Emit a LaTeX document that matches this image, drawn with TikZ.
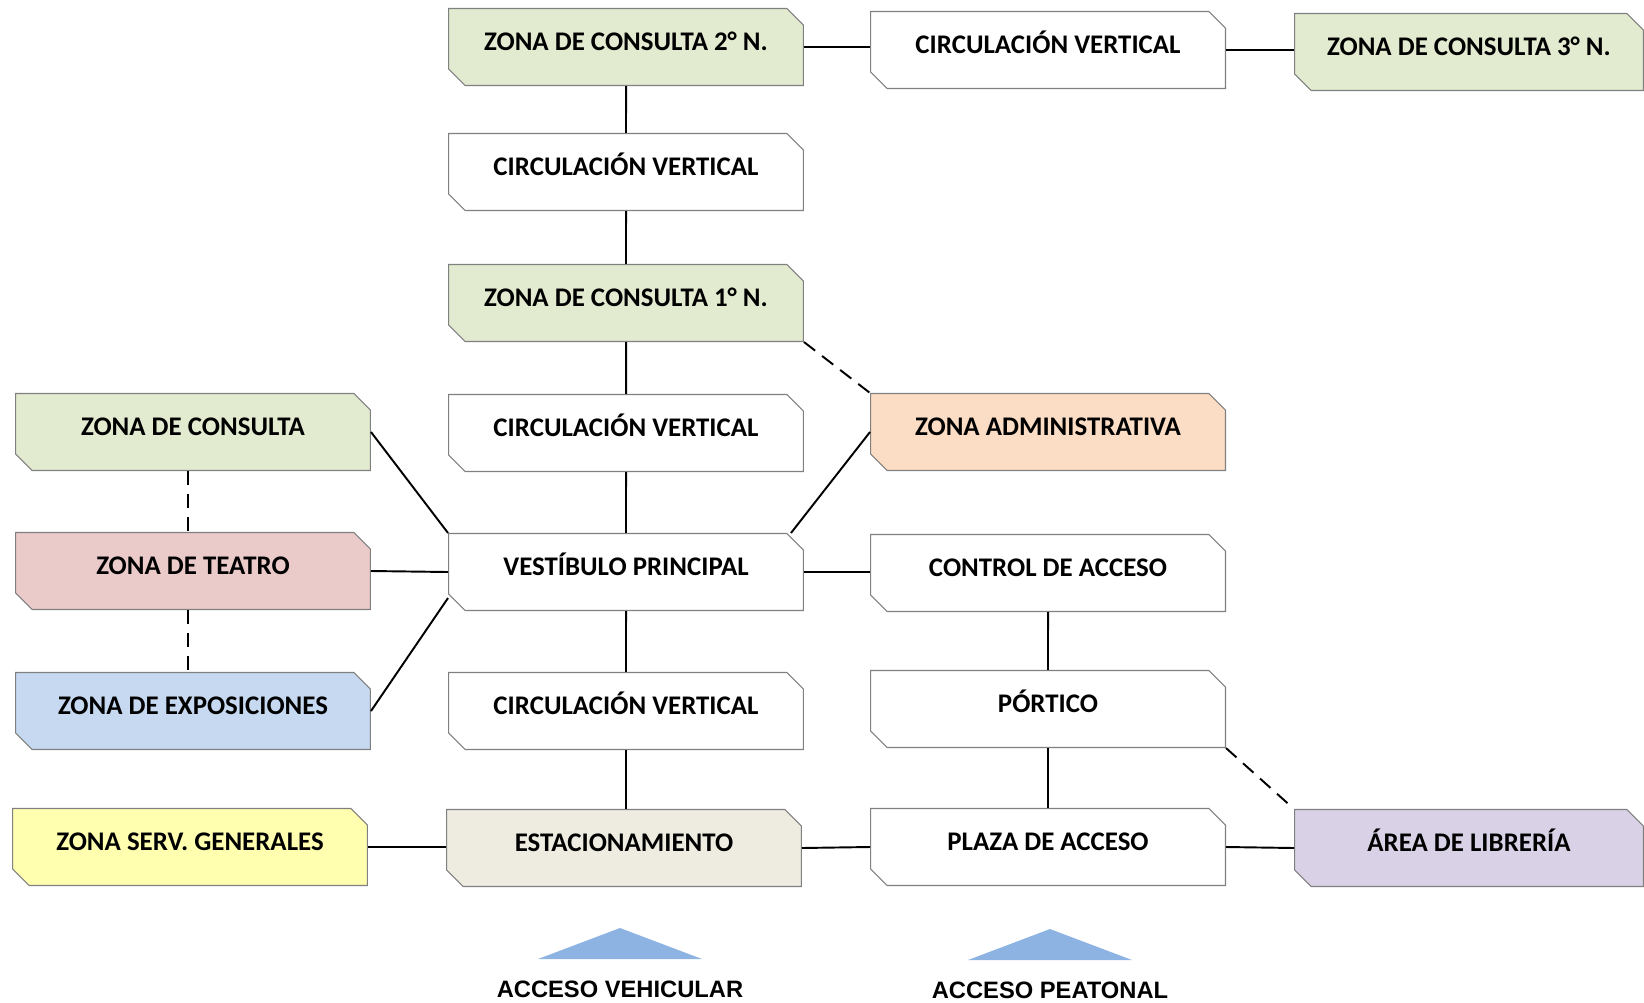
\documentclass[tikz,border=0pt]{standalone}
\usepackage{fontspec}
\setmainfont{Carlito}
\newfontfamily\arialfont{Liberation Sans}
\usetikzlibrary{shapes.misc}

\definecolor{verdeC}{HTML}{E2EBD0}
\definecolor{rosaC}{HTML}{EBCACA}
\definecolor{azulC}{HTML}{C6D9F0}
\definecolor{amarC}{HTML}{FFFFAF}
\definecolor{beigeC}{HTML}{EEECE1}
\definecolor{naranjaC}{HTML}{FBDCC4}
\definecolor{liláC}{HTML}{D9D2E6}
\definecolor{flechaC}{HTML}{8DB3E2}

\begin{document}
\begin{tikzpicture}[
  x=0.02cm, y=-0.02cm,
  zona/.style={chamfered rectangle, chamfered rectangle corners={north east,south west},
    chamfered rectangle xsep=0.22cm, draw=gray, line width=0.6pt, fill=white,
    minimum width=7.1cm, minimum height=1.54cm, inner sep=0pt,
    font=\fontsize{15.3}{18}\selectfont\bfseries, text height=0.4cm, text depth=0.26cm},
  link/.style={line width=1.1pt},
  guion/.style={line width=1.1pt, dash pattern=on 8pt off 5pt},
  acceso/.style={font=\arialfont\fontsize{13.5}{16}\selectfont\bfseries}
]
\useasboundingbox (0,0) rectangle (1644,1002);

\node[zona, fill=verdeC] (zc2) at (626,47) {ZONA DE CONSULTA 2° N.};
\node[zona] (cvA) at (1048,50) {CIRCULACIÓN VERTICAL};
\node[zona, fill=verdeC, minimum width=6.98cm] (zc3) at (1469,52) {ZONA DE CONSULTA 3° N.};
\node[zona] (cvB) at (626,172) {CIRCULACIÓN VERTICAL};
\node[zona, fill=verdeC] (zc1) at (626,303) {ZONA DE CONSULTA 1° N.};
\node[zona, fill=verdeC] (zcons) at (193,432) {ZONA DE CONSULTA};
\node[zona] (cvC) at (626,433) {CIRCULACIÓN VERTICAL};
\node[zona, fill=naranjaC] (zadm) at (1048,432) {ZONA ADMINISTRATIVA};
\node[zona, fill=rosaC] (teatro) at (193,571) {ZONA DE TEATRO};
\node[zona] (vest) at (626,572) {VESTÍBULO PRINCIPAL};
\node[zona] (control) at (1048,573) {CONTROL DE ACCESO};
\node[zona, fill=azulC] (expo) at (193,711) {ZONA DE EXPOSICIONES};
\node[zona] (cvD) at (626,711) {CIRCULACIÓN VERTICAL};
\node[zona] (portico) at (1048,709) {PÓRTICO};
\node[zona, fill=amarC] (serv) at (190,847) {ZONA SERV. GENERALES};
\node[zona, fill=beigeC] (estac) at (624,848) {ESTACIONAMIENTO};
\node[zona] (plaza) at (1048,847) {PLAZA DE ACCESO};
\node[zona, fill=liláC, minimum width=6.98cm] (libr) at (1469,848) {ÁREA DE LIBRERÍA};

\node[acceso] (accv) at (620,989) {ACCESO VEHICULAR};
\node[acceso] (accp) at (1050,990) {ACCESO PEATONAL};
\fill[flechaC] (538,959) -- (620,928) -- (702,959) -- cycle;
\fill[flechaC] (968,960) -- (1050,929) -- (1132,960) -- cycle;

\draw[link] (zc2.east) -- (zc2.east -| cvA.west);
\draw[link] (cvA.east) -- (cvA.east -| zc3.west);
\draw[link] (zc2) -- (cvB);
\draw[link] (cvB) -- (zc1);
\draw[link] (zc1) -- (cvC);
\draw[link] (cvC) -- (vest);
\draw[link] (vest) -- (cvD);
\draw[link] (cvD) -- (cvD |- estac.north);
\draw[guion] (zc1.south east) -- (zadm.north west);
\draw[link] (zcons.east) -- (vest.north west);
\draw[link] (teatro.east) -- (vest.west);
\draw[link] (expo.east) -- ([yshift=0.26cm]vest.west |- vest.south);
\draw[link] (zadm.west) -- ([xshift=-0.26cm]vest.east |- vest.north);
\draw[link] (vest.east) -- (vest.east -| control.west);
\draw[link] (control) -- (portico);
\draw[link] (portico) -- (plaza);
\draw[guion] (portico.south east) -- (libr.north west);
\draw[link] (serv.east) -- (serv.east -| estac.west);
\draw[link] (estac.east) -- (plaza.west);
\draw[link] (plaza.east) -- (libr.west);
\draw[guion] ([xshift=-0.1cm]zcons.south) -- ([xshift=-0.1cm]teatro.north);
\draw[guion] ([xshift=-0.1cm]teatro.south) -- ([xshift=-0.1cm]expo.north);
\end{tikzpicture}
\end{document}
